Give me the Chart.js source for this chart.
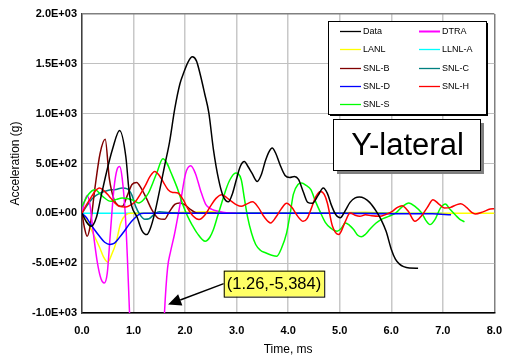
<!DOCTYPE html>
<html>
<head>
<meta charset="utf-8">
<script src="https://cdn.jsdelivr.net/npm/chart.js@4.4.1/dist/chart.umd.min.js"></script>
<style>
  html, body { margin: 0; padding: 0; background: #fff; }
  #wrap { width: 513px; height: 360px; }
</style>
</head>
<body>
<div id="wrap"><canvas id="chart" width="513" height="360"></canvas></div>
<script>
// time (ms) / acceleration (g) pairs
const dataT = [0, 0.09, 0.18, 0.28, 0.37, 0.47, 0.59, 0.73, 0.85, 0.91, 0.96, 1.07, 1.16, 1.26, 1.32, 1.41, 1.51, 1.60, 1.70, 1.80, 1.90, 1.98, 2.06, 2.14, 2.22, 2.30, 2.38, 2.46, 2.55, 2.65, 2.74, 2.84, 2.92, 2.99, 3.07, 3.15, 3.22, 3.30, 3.40, 3.48, 3.56, 3.63, 3.69, 3.76, 3.84, 3.94, 4.03, 4.12, 4.20, 4.29, 4.38, 4.47, 4.58, 4.68, 4.76, 4.84, 4.92, 5.01, 5.10, 5.20, 5.30, 5.38, 5.48, 5.58, 5.71, 5.80, 5.90, 6.00, 6.08, 6.16, 6.24, 6.35, 6.52];
const dataV = [0, -90, -130, -40, 170, 400, 640, 830, 570, 240, 80, -40, -170, -213, -160, 0, 240, 470, 720, 1050, 1300, 1420, 1520, 1570, 1530, 1380, 1200, 1010, 640, 340, 170, 115, 200, 330, 470, 520, 470, 400, 320, 390, 530, 620, 655, 600, 490, 380, 360, 370, 340, 220, 110, 100, 180, 254, 200, 80, -10, -45, 20, 110, 155, 164, 150, 110, 20, -60, -180, -360, -460, -510, -535, -548, -550];

const dtraT = [0, 0.05, 0.10, 0.15, 0.22, 0.30, 0.37, 0.43, 0.49, 0.55, 0.62, 0.68, 0.73, 0.78, 0.85, 0.93, 1.26, 1.60, 1.66, 1.72, 1.79, 1.86, 1.92, 2.01, 2.11, 2.20, 2.30, 2.40, 2.52, 2.65, 2.80, 3.00];
const dtraV = [0, 120, 180, 100, -200, -500, -660, -700, -600, -200, 250, 440, 470, 350, -100, -1100, -5384, -1000, -550, -380, -220, -30, 140, 400, 477, 400, 230, 90, 40, 20, 5, 0];

const lanlT = [0, 0.15, 0.25, 0.34, 0.42, 0.50, 0.57, 0.66, 0.75, 0.85, 0.95, 1.10, 2.00, 2.50, 2.80, 3.00, 4.00, 5.00, 5.50, 6.00, 7.00, 8.00];
const lanlV = [0, -130, -240, -340, -440, -490, -420, -296, -100, -15, 0, 0, 10, 15, 5, 0, 0, 5, 10, 0, 0, 0];

const llnlT = [0, 1, 2, 3, 4, 5, 6, 7];
const llnlV = [0, 0, 0, 0, 0, 0, 0, 0];

const snlbT = [0, 0.05, 0.10, 0.16, 0.25, 0.35, 0.45, 0.53, 0.62, 0.70, 0.78, 0.88, 0.97, 1.06, 1.15, 1.25, 1.35, 1.48, 1.60, 1.70, 1.80, 1.90, 2.00, 2.10, 2.25, 2.60];
const snlbV = [0, -150, -230, -120, 250, 600, 744, 350, 140, 80, 70, 180, 290, 310, 250, 150, 40, -50, -60, 20, 90, 104, 85, 40, 0, 0];

const snlcT = [0, 0.10, 0.21, 0.34, 0.50, 0.66, 0.78, 0.88, 0.97, 1.04, 1.12, 1.22, 1.30, 1.40, 1.50, 1.70, 2.50, 4.00, 5.00, 6.00];
const snlcV = [0, 80, 154, 200, 230, 240, 254, 245, 180, 70, -10, -60, -55, -10, 15, 5, 0, 0, 0, 0];

const snldT = [0, 0.08, 0.15, 0.25, 0.34, 0.44, 0.54, 0.63, 0.72, 0.82, 0.91, 1.00, 1.10, 1.20, 2.00, 3.00, 4.00, 5.00, 6.00, 6.80, 7.16];
const snldV = [0, -40, -96, -170, -230, -290, -313, -300, -246, -180, -113, -60, -13, 0, 0, 0, 0, 0, -5, -5, -15];

const snlhT = [0, 0.08, 0.15, 0.25, 0.34, 0.44, 0.53, 0.63, 0.72, 0.85, 0.95, 1.04, 1.13, 1.22, 1.32, 1.41, 1.50, 1.57, 1.67, 1.76, 1.86, 1.96, 2.05, 2.16, 2.27, 2.38, 2.49, 2.60, 2.71, 2.80, 2.90, 3.00, 3.09, 3.20, 3.31, 3.42, 3.54, 3.66, 3.76, 3.86, 3.97, 4.07, 4.17, 4.29, 4.37, 4.44, 4.54, 4.63, 4.70, 4.76, 4.86, 4.98, 5.11, 5.20, 5.30, 5.39, 5.50, 5.62, 5.77, 5.90, 6.02, 6.12, 6.21, 6.33, 6.46, 6.58, 6.70, 6.81, 6.93, 7.03, 7.15, 7.26, 7.35, 7.46, 7.56, 7.63, 7.78, 7.92, 8.00];
const snlhV = [0, 80, 137, 220, 254, 220, 170, 110, 70, 64, 85, 120, 190, 270, 370, 420, 380, 320, 237, 210, 204, 140, 50, -30, -63, -20, 70, 150, 187, 160, 120, 85, 70, 95, 115, 60, -40, -96, -40, 40, 100, 60, -20, -80, -50, 37, 170, 220, 190, 104, -130, -213, -80, 4, -20, -30, -15, -25, -30, -10, 20, 60, 77, 20, -80, -30, 60, 137, 90, 54, 60, 85, 97, 60, 10, -6, 15, 44, 47];

const snlsT = [0, 0.12, 0.25, 0.40, 0.56, 0.67, 0.78, 0.97, 1.10, 1.20, 1.29, 1.37, 1.45, 1.57, 1.65, 1.73, 1.86, 1.96, 2.05, 2.14, 2.23, 2.39, 2.48, 2.55, 2.63, 2.71, 2.80, 2.87, 2.98, 3.09, 3.15, 3.21, 3.29, 3.37, 3.46, 3.56, 3.68, 3.78, 3.87, 3.97, 4.04, 4.10, 4.19, 4.26, 4.35, 4.44, 4.53, 4.63, 4.72, 4.82, 4.95, 5.03, 5.11, 5.19, 5.27, 5.35, 5.42, 5.50, 5.58, 5.70, 5.80, 5.95, 6.09, 6.22, 6.34, 6.46, 6.59, 6.67, 6.75, 6.85, 6.95, 7.05, 7.14, 7.25, 7.33, 7.42];
const snlsV = [70, 187, 237, 170, 120, 140, 154, 137, 104, 140, 204, 300, 404, 547, 500, 404, 237, 80, -30, -120, -196, -280, -240, -163, -30, 104, 250, 337, 404, 337, 150, -30, -200, -313, -370, -396, -420, -430, -350, -196, 0, 190, 290, 304, 280, 237, 120, 4, -90, -146, -180, -150, -96, -120, -163, -220, -236, -210, -163, -100, -63, -30, 4, 70, 104, 70, 4, -70, -113, -60, 50, 94, 40, -20, -60, -85];

const seriesNames = ['Data', 'DTRA', 'LANL', 'LLNL-A', 'SNL-B', 'SNL-C', 'SNL-D', 'SNL-H', 'SNL-S'];
const seriesColors = ['#000000', '#ff00ff', '#ffff00', '#00ffff', '#800000', '#008080', '#0000ff', '#ff0000', '#00ff00'];
const seriesT = [dataT, dtraT, lanlT, llnlT, snlbT, snlcT, snldT, snlhT, snlsT];
const seriesV = [dataV, dtraV, lanlV, llnlV, snlbV, snlcV, snldV, snlhV, snlsV];
// lower order draws on top
const drawOrder = [1, 5, 8, 9, 6, 7, 3, 2, 4];

const xTickValues = [0, 1, 2, 3, 4, 5, 6, 7, 8];
const yTickValues = [-1000, -500, 0, 500, 1000, 1500, 2000];

const peakText = '(1.26,-5,384)';
const arrowTip = { x: 1.67, y: -915 };
const boxCorner = { x: 2.75, y: -575 };

const FONT = '"Liberation Sans", Arial, sans-serif';

function sci(v) {
  if (v === 0) return '0.0E+00';
  const e = Math.floor(Math.log10(Math.abs(v)));
  const m = v / Math.pow(10, e);
  return m.toFixed(1) + 'E' + (e < 0 ? '-' : '+') + String(Math.abs(e)).padStart(2, '0');
}

const datasets = seriesNames.map((name, i) => ({
  label: name,
  data: seriesT[i].map((t, k) => ({ x: t, y: seriesV[i][k] })),
  borderColor: seriesColors[i],
  backgroundColor: seriesColors[i],
  borderWidth: 1.5,
  pointRadius: 0,
  fill: false,
  cubicInterpolationMode: 'monotone',
  order: drawOrder[i]
}));

const overlays = {
  id: 'overlays',
  afterDraw(chart) {
    const ctx = chart.ctx;
    const xs = chart.scales.x, ys = chart.scales.y;
    ctx.save();

    // legend box
    const lx = 328, ly = 21, lw = 158, lh = 93;
    ctx.fillStyle = '#000';
    ctx.fillRect(lx + 2, ly + 2, lw, lh);
    ctx.fillStyle = '#fff';
    ctx.fillRect(lx, ly, lw, lh);
    ctx.strokeStyle = '#000';
    ctx.lineWidth = 1;
    ctx.strokeRect(lx + 0.5, ly + 0.5, lw, lh);
    ctx.font = '9px ' + FONT;
    ctx.textBaseline = 'middle';
    ctx.textAlign = 'left';
    chart.data.datasets.forEach((ds, i) => {
      const col = i % 2, row = Math.floor(i / 2);
      const x0 = col ? 419 : 340;
      const y0 = Math.round(31 + row * 18.3) + 0.5;
      ctx.strokeStyle = ds.borderColor;
      ctx.lineWidth = i === 1 ? 2 : 1.3;
      ctx.beginPath();
      ctx.moveTo(x0, y0);
      ctx.lineTo(x0 + 21, y0);
      ctx.stroke();
      ctx.fillStyle = '#000';
      ctx.fillText(ds.label, x0 + 23, y0);
    });

    // "Y-lateral" label box
    const bx = 333, by = 119, bw = 147, bh = 51;
    ctx.fillStyle = '#808080';
    ctx.fillRect(bx + 4, by + 4, bw, bh);
    ctx.fillStyle = '#fff';
    ctx.fillRect(bx, by, bw, bh);
    ctx.strokeStyle = '#000';
    ctx.lineWidth = 1;
    ctx.strokeRect(bx + 0.5, by + 0.5, bw, bh);
    ctx.fillStyle = '#000';
    ctx.font = '31px ' + FONT;
    ctx.textAlign = 'center';
    ctx.fillText('Y-lateral', bx + bw / 2 + 1, by + bh / 2 + 2);

    // off-scale peak callout
    ctx.font = '16.5px ' + FONT;
    const tw = ctx.measureText(peakText).width;
    const ax = xs.getPixelForValue(boxCorner.x), ay = ys.getPixelForValue(boxCorner.y);
    const aw = tw + 6, ah = 26;
    const tipX = xs.getPixelForValue(arrowTip.x), tipY = ys.getPixelForValue(arrowTip.y);
    const sx = ax, sy = ay + ah / 2;
    const ang = Math.atan2(tipY - sy, tipX - sx);
    const hl = 13, hw = 6;
    const baseX = tipX - hl * Math.cos(ang), baseY = tipY - hl * Math.sin(ang);
    ctx.strokeStyle = '#000';
    ctx.lineWidth = 1.5;
    ctx.beginPath();
    ctx.moveTo(sx, sy);
    ctx.lineTo(baseX, baseY);
    ctx.stroke();
    ctx.fillStyle = '#000';
    ctx.beginPath();
    ctx.moveTo(tipX, tipY);
    ctx.lineTo(baseX + hw * Math.sin(ang), baseY - hw * Math.cos(ang));
    ctx.lineTo(baseX - hw * Math.sin(ang), baseY + hw * Math.cos(ang));
    ctx.closePath();
    ctx.fill();

    ctx.fillStyle = '#ffff66';
    ctx.fillRect(ax, ay, aw, ah);
    ctx.strokeStyle = '#000';
    ctx.lineWidth = 1;
    ctx.strokeRect(ax + 0.5, ay + 0.5, aw, ah);
    ctx.fillStyle = '#000';
    ctx.textAlign = 'left';
    ctx.fillText(peakText, ax + 3, ay + ah / 2 + 1);

    ctx.restore();
  }
};

new Chart(document.getElementById('chart'), {
  type: 'line',
  data: { datasets },
  plugins: [overlays],
  options: {
    responsive: false,
    animation: false,
    devicePixelRatio: 1,
    layout: { padding: { top: 14, right: 9, left: 0, bottom: 0 } },
    plugins: {
      legend: { display: false },
      tooltip: { enabled: false }
    },
    scales: {
      x: {
        type: 'linear',
        min: 0,
        max: 8,
        afterBuildTicks: s => { s.ticks = xTickValues.map(v => ({ value: v })); },
        afterFit: s => { s.height = 47; },
        ticks: {
          padding: 11,
          color: '#000',
          maxRotation: 0,
          autoSkip: false,
          font: { family: FONT, size: 11, weight: 'bold' },
          callback: v => v.toFixed(1)
        },
        grid: {
          drawTicks: false,
          color: c => (c.tick && c.tick.value === 8 ? '#808080' : '#c8c8c8'),
          lineWidth: c => (c.tick && c.tick.value === 8 ? 1.5 : 1.5)
        },
        border: { color: '#000', width: 1.5 },
        title: {
          display: true,
          text: 'Time, ms',
          color: '#000',
          font: { family: FONT, size: 12 },
          padding: { top: 0, bottom: 3 }
        }
      },
      y: {
        type: 'linear',
        min: -1000,
        max: 2000,
        afterBuildTicks: s => { s.ticks = yTickValues.map(v => ({ value: v })); },
        afterFit: s => { s.width = 82; },
        ticks: {
          padding: 5,
          color: '#000',
          font: { family: FONT, size: 11, weight: 'bold' },
          callback: v => sci(v)
        },
        grid: {
          drawTicks: false,
          color: c => (c.tick && c.tick.value === 2000 ? '#808080' : '#c0c0c0'),
          lineWidth: c => (c.tick && c.tick.value === 2000 ? 1.5 : 1)
        },
        border: { color: '#404040', width: 1.5 },
        title: {
          display: true,
          text: 'Acceleration (g)',
          color: '#000',
          font: { family: FONT, size: 12 },
          padding: { top: 8, bottom: 0 }
        }
      }
    }
  }
});
</script>
</body>
</html>
